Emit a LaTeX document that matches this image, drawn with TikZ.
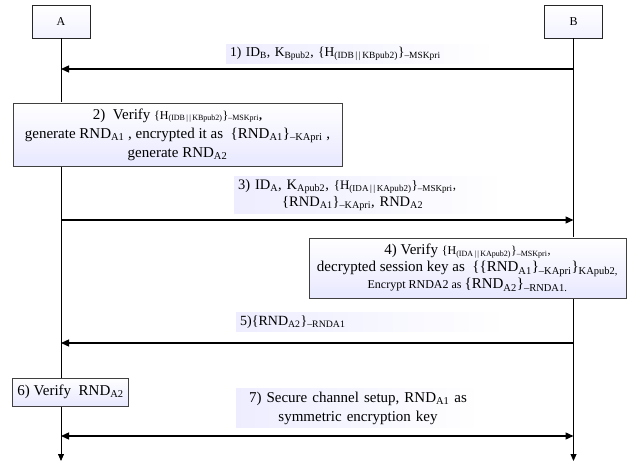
\documentclass[tikz,border=0pt]{standalone}
\usepackage{fontspec}
\setmainfont{Liberation Serif}
\usetikzlibrary{arrows.meta}
\newcommand{\sbs}[1]{\textsubscript{#1}}
\newcommand{\fs}[1]{\fontsize{#1}{#1}\selectfont}
\newcommand{\bars}{\,|\,|\,}
\begin{document}
\begin{tikzpicture}[x=1pt,y=-1pt,
  actor/.style={draw=black!85, line width=0.8pt, top color=white, bottom color=blue!5,
    minimum width=58pt, minimum height=33pt, inner sep=0pt, font=\fs{12}},
  proc/.style={draw=black!75, line width=0.9pt, top color=white, bottom color=blue!9,
    align=center, inner sep=2pt},
  lbl/.style={left color=blue!7, right color=white, inner xsep=4pt, inner ysep=3pt},
  msg/.style={line width=1.3pt, -{Triangle[length=8pt,width=7pt]}},
  bmsg/.style={line width=1.3pt, {Triangle[length=8pt,width=7pt]}-{Triangle[length=8pt,width=7pt]}},
  life/.style={line width=0.8pt, -{Triangle[length=7pt,width=6pt]}}]
\useasboundingbox (0,0) rectangle (632,462);

% actors
\node[actor] (A) at (61,21.5) {A};
\node[actor] (B) at (573.5,21.5) {B};
\coordinate (Aend) at (61,461);
\coordinate (Bend) at (573.5,461);
\draw[life] (A) -- (Aend);
\draw[life] (B) -- (Bend);

% message points on lifelines
\coordinate (a1) at (61,69);   \coordinate (b1) at (573.5,69);
\coordinate (a3) at (61,220);  \coordinate (b3) at (573.5,220);
\coordinate (a5) at (61,343);  \coordinate (b5) at (573.5,343);
\coordinate (a7) at (61,436);  \coordinate (b7) at (573.5,436);

% 1
\node[lbl, anchor=west, text width=262pt, align=left, font=\fs{13.5}] (l1) at (226,54)
  {1) ID\sbs{B}, K\sbs{Bpub2}, \{H\sbs{(IDB\bars KBpub2)}\}\sbs{--MSKpri}};
\draw[msg] (b1) -- (a1);

% 2
\node[proc, minimum width=329pt, minimum height=63pt, font=\fontsize{15}{19}\selectfont] (s2) at (177.5,134.5)
  {2)\ \ Verify {\fs{12}\{H\sbs{(IDB\bars KBpub2)}\}\sbs{--MSKpri}\textbf{,}}\\
   generate RND\sbs{A1} , encrypted it as \ \{RND\sbs{A1}\}\sbs{--KApri} ,\\
   generate RND\sbs{A2}};

% 3
\node[lbl, anchor=west, text width=262pt, align=left, font=\fontsize{14.5}{17}\selectfont] (l3) at (234,195)
  {3) ID\sbs{A}, K\sbs{Apub2}, {\fs{13}\{H\sbs{(IDA\bars KApub2)}\}\sbs{--MSKpri},}\\
   \hspace*{44pt}\{RND\sbs{A1}\}\sbs{--KApri}, RND\sbs{A2}};
\draw[msg] (a3) -- (b3);

% 4
\node[proc, minimum width=317pt, minimum height=60pt, font=\fontsize{15}{17}\selectfont] (s4) at (467.5,268)
  {4) Verify {\fs{12}\{H\sbs{(IDA\bars KApub2)}\}\sbs{--MSKpri},}\\
   decrypted session key as \ \{\{RND\sbs{A1}\}\sbs{--KApri}\}\sbs{KApub2,}\\
   {\fs{12}Encrypt RNDA2 as }\{RND\sbs{A2}\}\sbs{--RNDA1.}};

% 5
\node[lbl, anchor=west, text width=262pt, align=left, font=\fs{14}] (l5) at (236,322)
  {5)\{RND\sbs{A2}\}\sbs{--RNDA1}};
\draw[msg] (b5) -- (a5);

% 6
\node[proc, anchor=west, minimum height=28pt, inner xsep=5pt, font=\fs{15}] (s6) at (12,392)
  {6) Verify\ \ RND\sbs{A2}};

% 7
\node[lbl, text width=236pt, align=center, font=\fontsize{15}{19}\selectfont] (l7) at (358,408)
  {7) Secure channel setup, RND\sbs{A1} as\\
   symmetric encryption key};
\draw[bmsg] (a7) -- (b7);
\end{tikzpicture}
\end{document}
